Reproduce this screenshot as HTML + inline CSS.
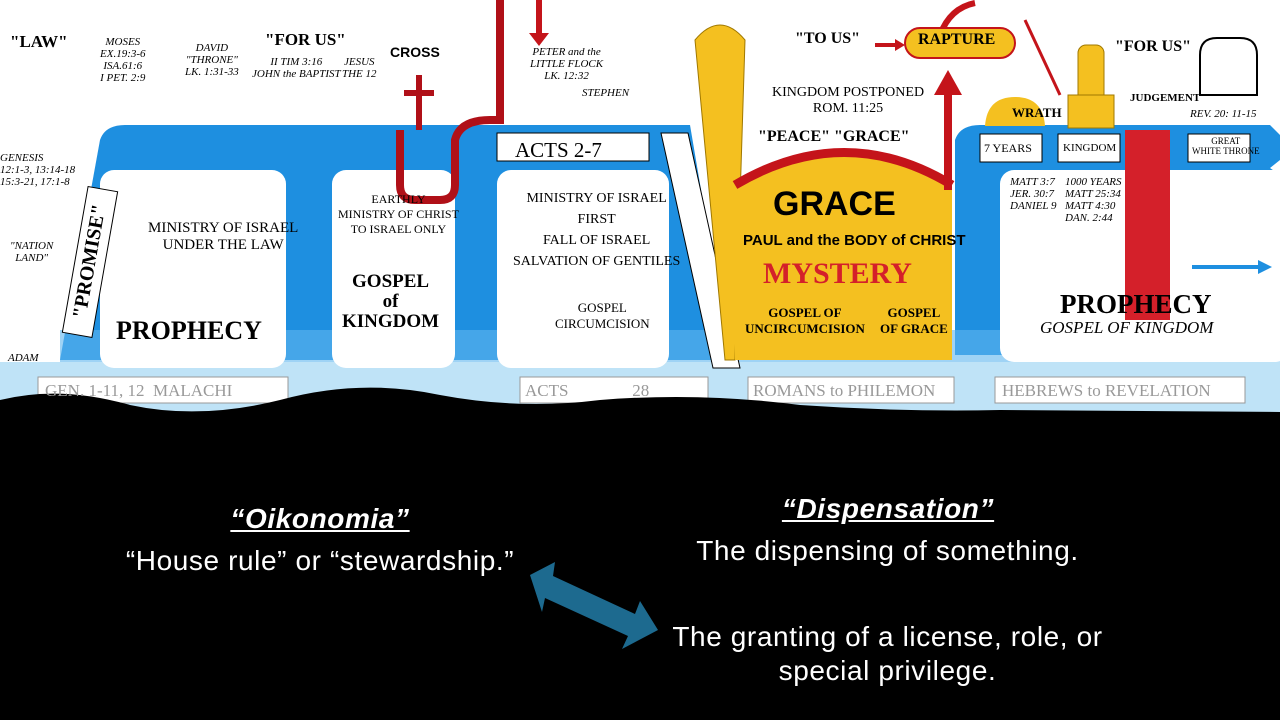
<!DOCTYPE html>
<html><head><meta charset="utf-8"><style>
body{margin:0;width:1280px;height:720px;background:#000;overflow:hidden;position:relative;font-family:"Liberation Sans",sans-serif}
svg{position:absolute;left:0;top:0}
.t{position:absolute;white-space:nowrap;font-family:"Liberation Serif",serif;color:#000;text-align:center}
.i{position:absolute;white-space:nowrap;font:italic 11px "Liberation Serif",serif;color:#000;text-align:center;line-height:12px}
.w{position:absolute;color:#fff;text-align:center;white-space:nowrap;font-size:28px;letter-spacing:0.6px}
</style></head><body>
<svg width="1280" height="720" viewBox="0 0 1280 720">
<rect x="0" y="0" width="1280" height="420" fill="#fff"/>
<rect x="0" y="362" width="1280" height="55" fill="#bfe3f7"/>
<path d="M60 360 L100 140 Q105 125 125 125 L475 125 L690 125 L730 360 Z" fill="#1e8fe0"/>
<path d="M955 140 Q960 125 980 125 L1270 125 L1280 135 L1280 160 L1270 168 L1280 175 L1280 355 L955 355 Z" fill="#1e8fe0"/>
<rect x="60" y="330" width="1220" height="32" fill="#5fb6ee" opacity=".6"/>
<rect x="100" y="170" width="186" height="198" rx="14" fill="#fff"/>
<rect x="332" y="170" width="123" height="198" rx="14" fill="#fff"/>
<rect x="497" y="170" width="172" height="198" rx="14" fill="#fff"/>
<rect x="1000" y="170" width="290" height="192" rx="14" fill="#fff"/>
<rect x="497" y="133" width="152" height="28" fill="#fff" stroke="#000"/>
<path d="M661 133 L688 133 L740 368 L713 368 Z" fill="#fff" stroke="#000"/>
<rect x="980" y="134" width="62" height="28" fill="#fff" stroke="#000"/>
<rect x="1058" y="134" width="62" height="28" fill="#fff" stroke="#000"/>
<rect x="1188" y="134" width="62" height="28" fill="#fff" stroke="#000"/>
<rect x="75" y="188" width="30" height="148" fill="#fff" stroke="#000" transform="rotate(10 90 262)"/>
<path d="M695 40 Q720 10 745 40 L735 360 L725 360 Z" fill="#f4c020" stroke="#a07800"/>
<path d="M735 185 Q845 120 952 185 L952 360 L735 360 Z" fill="#f4c020"/>
<path d="M735 185 Q845 120 952 185" fill="none" stroke="#c4141a" stroke-width="9"/>
<path d="M985 126 Q987 97 1015 97 Q1043 97 1045 126 Z" fill="#f4c020"/>
<rect x="1078" y="45" width="26" height="60" rx="8" fill="#f4c020" stroke="#a07800"/>
<rect x="1068" y="95" width="46" height="33" fill="#f4c020" stroke="#a07800"/>
<rect x="1125" y="130" width="45" height="190" fill="#d4202a"/>
<path d="M400 130 L400 185 Q400 200 415 200 L440 200 Q455 200 455 185 L455 140 Q460 120 490 120 L500 120 L500 0" fill="none" stroke="#b01018" stroke-width="8"/>
<rect x="416" y="75" width="6" height="55" fill="#b01018"/><rect x="404" y="90" width="30" height="6" fill="#b01018"/>
<rect x="536" y="0" width="6" height="35" fill="#c4141a"/><path d="M529 33 L549 33 L539 46Z" fill="#c4141a"/>
<path d="M948 190 L948 90" stroke="#c4141a" stroke-width="8"/><path d="M934 95 L962 95 L948 70Z" fill="#c4141a"/>
<path d="M940 35 Q950 8 975 3" fill="none" stroke="#c4141a" stroke-width="6"/>
<path d="M1025 20 L1060 95" stroke="#c4141a" stroke-width="3"/>
<rect x="905" y="28" width="110" height="30" rx="15" fill="#f4c020" stroke="#c4141a" stroke-width="2"/>
<path d="M875 45 L897 45" stroke="#c4141a" stroke-width="4"/><path d="M895 39 L905 45 L895 51Z" fill="#c4141a"/>
<path d="M1192 267 L1262 267" stroke="#1e8fe0" stroke-width="4"/><path d="M1258 260 L1272 267 L1258 274Z" fill="#1e8fe0"/>
<path d="M1200 95 L1200 55 Q1200 38 1217 38 L1240 38 Q1257 38 1257 55 L1257 95 Z" fill="#fff" stroke="#000" stroke-width="2"/>
<rect x="38" y="377" width="250" height="26" fill="#fff" stroke="#999"/>
<rect x="520" y="377" width="188" height="26" fill="#fff" stroke="#999"/>
<rect x="748" y="377" width="206" height="26" fill="#fff" stroke="#999"/>
<rect x="995" y="377" width="250" height="26" fill="#fff" stroke="#999"/>
<path d="M0 400 Q60 385 130 405 Q200 420 280 400 Q360 378 440 395 Q520 410 600 400 Q700 392 800 405 Q900 412 1000 410 L1280 412 L1280 720 L0 720Z" fill="#000"/>
<path d="M530 575 L555 562 L553 576 L635 614 L640 601 L658 630 L622 649 L628 636 L545 598 L542 612Z" fill="#1d6a8f"/>
</svg>
<div class="t" style="left:10px;top:32px;font:bold 17px 'Liberation Serif'">"LAW"</div>
<div class="t" style="left:265px;top:30px;font:bold 17px 'Liberation Serif'">"FOR US"</div>
<div class="t" style="left:390px;top:44px;font:bold 14px 'Liberation Sans'">CROSS</div>
<div class="i" style="left:100px;top:36px">MOSES<br>EX.19:3-6<br>ISA.61:6<br>I PET. 2:9</div>
<div class="i" style="left:185px;top:42px">DAVID<br>"THRONE"<br>LK. 1:31-33</div>
<div class="i" style="left:252px;top:56px">II TIM 3:16<br>JOHN the BAPTIST</div>
<div class="i" style="left:342px;top:56px">JESUS<br>THE 12</div>
<div class="i" style="left:530px;top:46px">PETER and the<br>LITTLE FLOCK<br>LK. 12:32</div>
<div class="i" style="left:582px;top:87px">STEPHEN</div>
<div class="i" style="left:0px;top:152px;text-align:left">GENESIS<br>12:1-3, 13:14-18<br>15:3-21, 17:1-8</div>
<div class="i" style="left:10px;top:240px">"NATION<br>LAND"</div>
<div class="i" style="left:8px;top:352px">ADAM</div>
<div class="t" style="left:15px;top:250px;width:150px;font:bold 20px 'Liberation Serif';transform:rotate(-80deg)">"PROMISE"</div>
<div class="t" style="left:515px;top:138px;font:21px 'Liberation Serif'">ACTS 2-7</div>
<div class="t" style="left:148px;top:220px;font:15px 'Liberation Serif'">MINISTRY OF ISRAEL<br>UNDER THE LAW</div>
<div class="t" style="left:116px;top:316px;font:bold 26px 'Liberation Serif'">PROPHECY</div>
<div class="t" style="left:338px;top:192px;font:12px 'Liberation Serif'">EARTHLY<br>MINISTRY OF CHRIST<br>TO ISRAEL ONLY</div>
<div class="t" style="left:342px;top:272px;font:bold 19px 'Liberation Serif';line-height:20px">GOSPEL<br>of<br>KINGDOM</div>
<div class="t" style="left:513px;top:188px;font:14px 'Liberation Serif';line-height:21px">MINISTRY OF ISRAEL<br>FIRST<br>FALL OF ISRAEL<br>SALVATION OF GENTILES</div>
<div class="t" style="left:555px;top:300px;font:13px 'Liberation Serif'">GOSPEL<br>CIRCUMCISION</div>
<div class="t" style="left:795px;top:30px;font:bold 16px 'Liberation Serif'">"TO US"</div>
<div class="t" style="left:918px;top:31px;font:bold 16px 'Liberation Serif'">RAPTURE</div>
<div class="t" style="left:1115px;top:38px;font:bold 16px 'Liberation Serif'">"FOR US"</div>
<div class="t" style="left:772px;top:85px;font:14px 'Liberation Serif'">KINGDOM POSTPONED<br>ROM. 11:25</div>
<div class="t" style="left:758px;top:128px;font:bold 16px 'Liberation Serif'">"PEACE" "GRACE"</div>
<div class="t" style="left:773px;top:185px;font:bold 34px 'Liberation Sans'">GRACE</div>
<div class="t" style="left:743px;top:232px;font:bold 15px 'Liberation Sans'">PAUL and the BODY of CHRIST</div>
<div class="t" style="left:763px;top:257px;font:bold 30px 'Liberation Serif';color:#d4202a">MYSTERY</div>
<div class="t" style="left:745px;top:305px;font:bold 13px 'Liberation Serif'">GOSPEL OF<br>UNCIRCUMCISION</div>
<div class="t" style="left:880px;top:305px;font:bold 13px 'Liberation Serif'">GOSPEL<br>OF GRACE</div>
<div class="t" style="left:984px;top:141px;font:12px 'Liberation Serif'">7 YEARS</div>
<div class="t" style="left:1063px;top:142px;font:11px 'Liberation Serif'">KINGDOM</div>
<div class="t" style="left:1192px;top:136px;font:9px 'Liberation Serif'">GREAT<br>WHITE THRONE</div>
<div class="i" style="left:1010px;top:176px;text-align:left">MATT 3:7<br>JER. 30:7<br>DANIEL 9</div>
<div class="i" style="left:1065px;top:176px;text-align:left">1000 YEARS<br>MATT 25:34<br>MATT 4:30<br>DAN. 2:44</div>
<div class="i" style="left:1190px;top:108px">REV. 20: 11-15</div>
<div class="t" style="left:1060px;top:289px;font:bold 27px 'Liberation Serif'">PROPHECY</div>
<div class="t" style="left:1040px;top:318px;font:italic 17px 'Liberation Serif'">GOSPEL OF KINGDOM</div>
<div class="t" style="left:1130px;top:92px;font:bold 11px 'Liberation Serif'">JUDGEMENT</div>
<div class="t" style="left:1012px;top:105px;font:bold 13px 'Liberation Serif'">WRATH</div>
<div class="t" style="left:45px;top:381px;font:17px 'Liberation Serif';color:#999">GEN. 1-11, 12 &nbsp;MALACHI</div>
<div class="t" style="left:525px;top:381px;font:17px 'Liberation Serif';color:#999">ACTS &nbsp;&nbsp;&nbsp;&nbsp;&nbsp;&nbsp;&nbsp;&nbsp;&nbsp;&nbsp;&nbsp;&nbsp;&nbsp;&nbsp;28</div>
<div class="t" style="left:753px;top:381px;font:17px 'Liberation Serif';color:#999">ROMANS to PHILEMON</div>
<div class="t" style="left:1002px;top:381px;font:17px 'Liberation Serif';color:#999">HEBREWS to REVELATION</div>
<div class="w" style="left:170px;width:300px;top:503px;font-weight:bold;font-style:italic;text-decoration:underline">“Oikonomia”</div>
<div class="w" style="left:80px;width:480px;top:545px">“House rule” or “stewardship.”</div>
<div class="w" style="left:738px;width:300px;top:493px;font-weight:bold;font-style:italic;text-decoration:underline">“Dispensation”</div>
<div class="w" style="left:630px;width:515px;top:535px">The dispensing of something.</div>
<div class="w" style="left:630px;width:515px;top:621px">The granting of a license, role, or</div>
<div class="w" style="left:630px;width:515px;top:655px">special privilege.</div>
</body></html>
